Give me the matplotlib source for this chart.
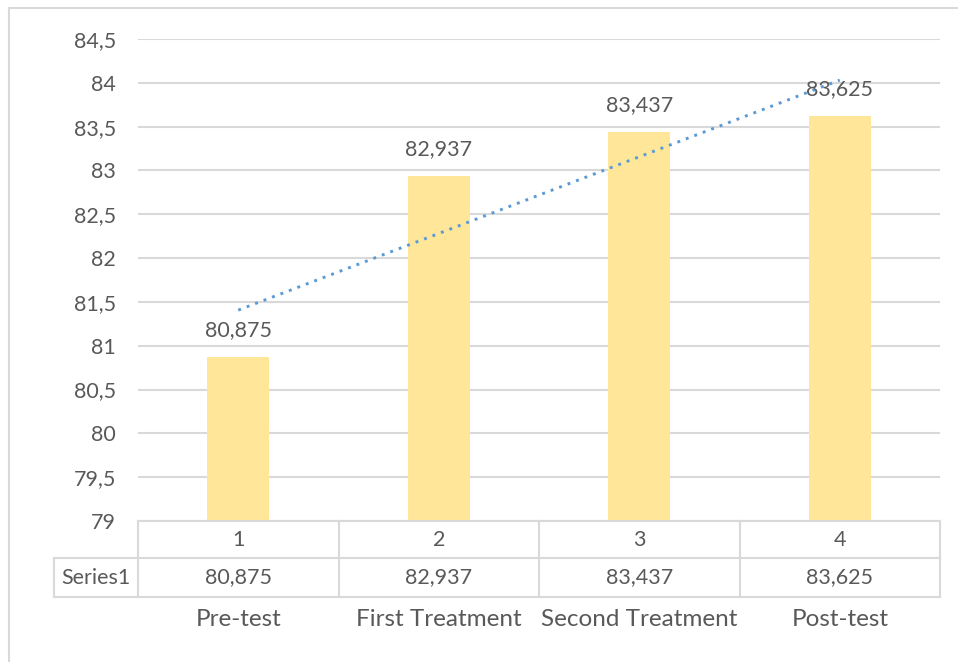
import matplotlib.pyplot as plt
import numpy as np
from matplotlib.patches import Rectangle

# scores per stage
stages = ['Pre-test', 'First Treatment', 'Second Treatment', 'Post-test']
idx_labels = ['1', '2', '3', '4']
values = [80.875, 82.937, 83.437, 83.625]
series_name = 'Series1'
yticks = [79, 79.5, 80, 80.5, 81, 81.5, 82, 82.5, 83, 83.5, 84, 84.5]

BAR = '#FFE699'
TREND = '#5B9BD5'
GRID = '#D9D9D9'
TXT = '#595959'
FS = 15.5      # numbers
FS_CAT = 17.5  # category names

plt.rcParams['font.family'] = ['Lato', 'DejaVu Sans']

def fmt(v):
  """ decimal comma, trailing zeros dropped """
  s = ('%.3f' % v).rstrip('0').rstrip('.')
  return s.replace('.', ',')

W, H = 958, 662
fig = plt.figure(figsize=(W/100, H/100), dpi=100)
fig.patch.set_facecolor('white')

# outer frame (only left and top edges fall inside the image)
fig.add_artist(Rectangle((9/W, -0.1), 1.2, 1 - 8/H + 0.1, transform=fig.transFigure,
                         fill=False, edgecolor=GRID, lw=1.5))

x0, x1 = 138/W, 940/W
y0, y1 = 1 - 521/H, 1 - 39/H
ax = fig.add_axes([x0, y0, x1 - x0, y1 - y0])

x = np.arange(len(values))
ax.bar(x, values, width=0.31, color=BAR, zorder=2)
ax.set_xlim(-0.5, len(values) - 0.5)
ax.set_ylim(yticks[0], yticks[-1])

# value labels on top of the bars
for xi, v in zip(x, values):
  ax.text(xi, v + 0.19, fmt(v), ha='center', va='bottom', fontsize=FS, color=TXT, zorder=4)

# linear trendline
slope, intercept = np.polyfit(x + 1, values, 1)
ax.plot(x, slope*(x + 1) + intercept, color=TREND, lw=2.1,
        linestyle=(0, (1, 2.1)), zorder=3)

ax.set_yticks(yticks)
ax.set_yticklabels([fmt(t) for t in yticks], fontsize=FS, color=TXT)
ax.tick_params(axis='y', length=0, pad=16)
ax.set_xticks([])
ax.yaxis.grid(True, color=GRID, lw=1.5, zorder=0)
for s in ax.spines.values():
  s.set_visible(False)

# data table below the plot
def fy(py):
  return 1 - py/H

r0, r1, r2 = 521, 558, 597
left = 54/W
cell = (x1 - x0) / len(values)
lkw = dict(color=GRID, lw=1.5, transform=fig.transFigure)
fig.add_artist(plt.Line2D([x0, x1], [fy(r0), fy(r0)], **lkw))
fig.add_artist(plt.Line2D([left, x1], [fy(r1), fy(r1)], **lkw))
fig.add_artist(plt.Line2D([left, x1], [fy(r2), fy(r2)], **lkw))
fig.add_artist(plt.Line2D([left, left], [fy(r1), fy(r2)], **lkw))
for i in range(len(values) + 1):
  xx = x0 + i*cell
  fig.add_artist(plt.Line2D([xx, xx], [fy(r0), fy(r2)], **lkw))

fig.text((left + x0)/2, fy((r1 + r2)/2), series_name, ha='center', va='center',
         fontsize=FS, color=TXT)
for i in range(len(values)):
  cx = x0 + (i + 0.5)*cell
  fig.text(cx, fy((r0 + r1)/2), idx_labels[i], ha='center', va='center', fontsize=FS, color=TXT)
  fig.text(cx, fy((r1 + r2)/2), fmt(values[i]), ha='center', va='center', fontsize=FS, color=TXT)
  fig.text(cx, fy(620), stages[i], ha='center', va='center', fontsize=FS_CAT, color=TXT)

fig.savefig('out.png', dpi=100)
